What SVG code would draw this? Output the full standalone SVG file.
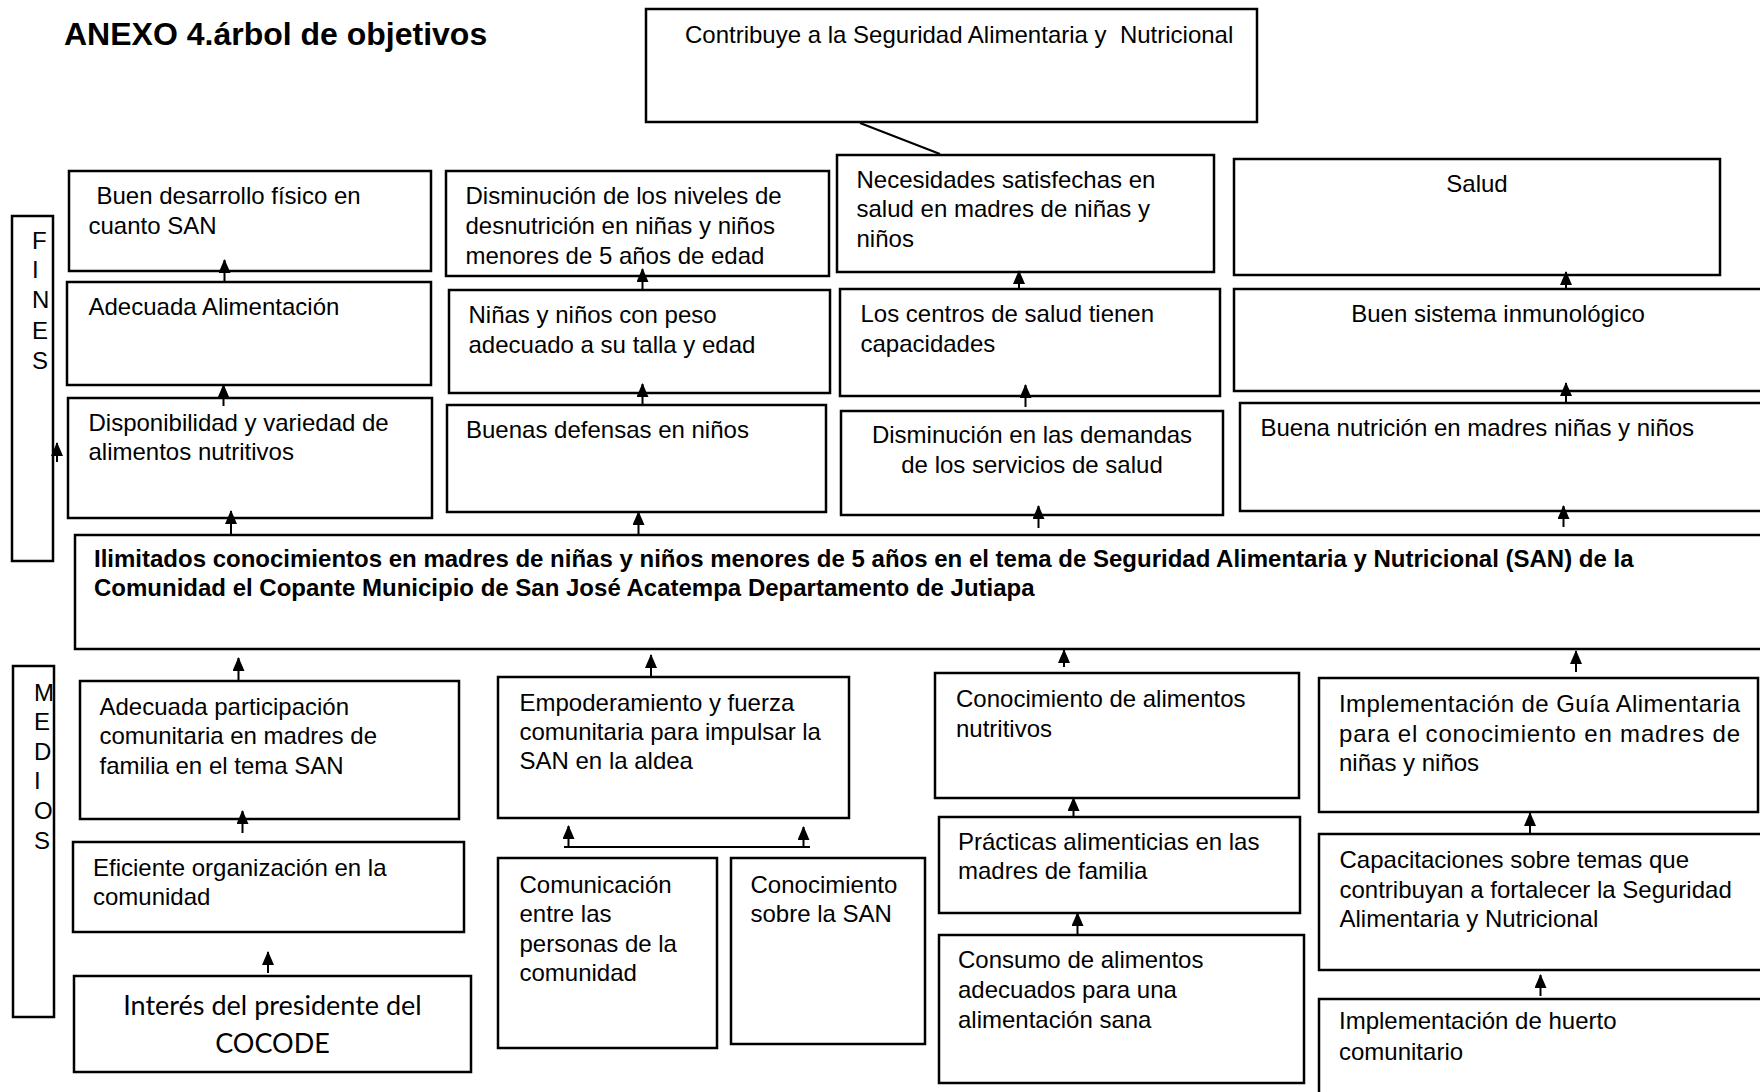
<svg xmlns="http://www.w3.org/2000/svg" width="1760" height="1092" viewBox="0 0 1760 1092">
<style>
  .box { fill: #ffffff; stroke: #000000; stroke-width: 2.5; }
  .t { font-family: "Liberation Sans", Arial, sans-serif; font-size: 24px; fill: #000000; }
  .b { font-family: "Liberation Sans", Arial, sans-serif; font-size: 24px; font-weight: bold; fill: #000000; }
  .title { font-family: "Liberation Sans", Arial, sans-serif; font-size: 32px; font-weight: bold; fill: #000000; }
  .cal { font-family: Lato, "Open Sans", sans-serif; font-size: 27px; fill: #000000; }
  .c { text-anchor: middle; }
  .arr { stroke: #000000; stroke-width: 2; fill: none; marker-end: url(#ah); }
  .ln { stroke: #000000; stroke-width: 2; fill: none; }
</style>
<defs>
  <marker id="ah" markerUnits="userSpaceOnUse" markerWidth="14" markerHeight="12" viewBox="0 0 14 12" refX="13" refY="6" orient="auto">
    <path d="M0,0 L14,6 L0,12 z" fill="#000000"/>
  </marker>
</defs>
<rect width="1760" height="1092" fill="#ffffff"/>

<text class="title" x="64" y="45">ANEXO 4.árbol de objetivos</text>

<g id="fin-general">
  <rect class="box" x="646" y="9" width="611" height="113"/>
  <text class="t" x="685" y="43" xml:space="preserve">Contribuye a la Seguridad Alimentaria y  Nutricional</text>
</g>

<g id="label-fines">
  <rect class="box" x="12" y="216" width="41" height="345"/>
  <text class="t" x="32" y="249">F</text>
  <text class="t" x="32" y="278">I</text>
  <text class="t" x="32" y="308">N</text>
  <text class="t" x="32" y="339">E</text>
  <text class="t" x="32" y="369">S</text>
</g>

<g id="label-medios">
  <rect class="box" x="13" y="666" width="41" height="351"/>
  <text class="t" x="34" y="701">M</text>
  <text class="t" x="34" y="730">E</text>
  <text class="t" x="34" y="760">D</text>
  <text class="t" x="34" y="789">I</text>
  <text class="t" x="34" y="819">O</text>
  <text class="t" x="34" y="849">S</text>
</g>

<g id="a1">
  <rect class="box" x="69" y="171" width="362" height="100"/>
  <text class="t" x="96.5" y="204">Buen desarrollo físico en</text>
  <text class="t" x="88.5" y="234">cuanto SAN</text>
</g>
<g id="a2">
  <rect class="box" x="446" y="171" width="383" height="105"/>
  <text class="t" x="465.5" y="204">Disminución de los niveles de</text>
  <text class="t" x="465.5" y="234">desnutrición en niñas y niños</text>
  <text class="t" x="465.5" y="264">menores de 5 años de edad</text>
</g>
<g id="a3">
  <rect class="box" x="837" y="155" width="377" height="117"/>
  <text class="t" x="856.5" y="188">Necesidades satisfechas en</text>
  <text class="t" x="856.5" y="217">salud en madres de niñas y</text>
  <text class="t" x="856.5" y="247">niños</text>
</g>
<g id="a4">
  <rect class="box" x="1234" y="159" width="486" height="116"/>
  <text class="t c" x="1477" y="192">Salud</text>
</g>

<g id="b1">
  <rect class="box" x="67" y="282" width="364" height="103"/>
  <text class="t" x="88.5" y="315">Adecuada Alimentación</text>
</g>
<g id="b2">
  <rect class="box" x="449" y="290" width="381" height="103"/>
  <text class="t" x="468.5" y="323">Niñas y niños con peso</text>
  <text class="t" x="468.5" y="353">adecuado a su talla y edad</text>
</g>
<g id="b3">
  <rect class="box" x="840" y="289" width="380" height="107"/>
  <text class="t" x="860.5" y="322">Los centros de salud tienen</text>
  <text class="t" x="860.5" y="352">capacidades</text>
</g>
<g id="b4">
  <rect class="box" x="1234" y="289" width="540" height="102"/>
  <text class="t c" x="1498" y="322">Buen sistema inmunológico</text>
</g>

<g id="c1">
  <rect class="box" x="68" y="398" width="364" height="120"/>
  <text class="t" x="88.5" y="431">Disponibilidad y variedad de</text>
  <text class="t" x="88.5" y="460">alimentos nutritivos</text>
</g>
<g id="c2">
  <rect class="box" x="447" y="405" width="379" height="107"/>
  <text class="t" x="466" y="438">Buenas defensas en niños</text>
</g>
<g id="c3">
  <rect class="box" x="841" y="411" width="382" height="104"/>
  <text class="t c" x="1032" y="443">Disminución en las demandas</text>
  <text class="t c" x="1032" y="473">de los servicios de salud</text>
</g>
<g id="c4">
  <rect class="box" x="1240" y="403" width="540" height="108"/>
  <text class="t" x="1260.5" y="436">Buena nutrición en madres niñas y niños</text>
</g>

<g id="problema-central">
  <rect class="box" x="75" y="535" width="1700" height="114"/>
  <text class="b" x="94" y="567">Ilimitados conocimientos en madres de niñas y niños menores de 5 años en el tema de Seguridad Alimentaria y Nutricional (SAN) de la</text>
  <text class="b" x="94" y="596">Comunidad el Copante Municipio de San José Acatempa Departamento de Jutiapa</text>
</g>

<g id="d1">
  <rect class="box" x="80" y="681" width="379" height="138"/>
  <text class="t" x="99.5" y="715">Adecuada participación</text>
  <text class="t" x="99.5" y="744">comunitaria en madres de</text>
  <text class="t" x="99.5" y="774">familia en el tema SAN</text>
</g>
<g id="d2">
  <rect class="box" x="498" y="677" width="351" height="141"/>
  <text class="t" x="519.5" y="711">Empoderamiento y fuerza</text>
  <text class="t" x="519.5" y="740">comunitaria para impulsar la</text>
  <text class="t" x="519.5" y="769">SAN en la aldea</text>
</g>
<g id="d3">
  <rect class="box" x="935" y="673" width="364" height="125"/>
  <text class="t" x="956" y="707">Conocimiento de alimentos</text>
  <text class="t" x="956" y="737">nutritivos</text>
</g>
<g id="d4">
  <rect class="box" x="1319" y="678" width="439" height="134"/>
  <text class="t" x="1339" y="712" textLength="401" lengthAdjust="spacing">Implementación de Guía Alimentaria</text>
  <text class="t" x="1339" y="742" textLength="401" lengthAdjust="spacing">para el conocimiento en madres de</text>
  <text class="t" x="1339" y="771">niñas y niños</text>
</g>

<g id="e1">
  <rect class="box" x="73" y="842" width="391" height="90"/>
  <text class="t" x="93" y="876">Eficiente organización en la</text>
  <text class="t" x="93" y="905">comunidad</text>
</g>
<g id="e2">
  <rect class="box" x="498" y="858" width="219" height="190"/>
  <text class="t" x="519.5" y="893">Comunicación</text>
  <text class="t" x="519.5" y="922">entre las</text>
  <text class="t" x="519.5" y="952">personas de la</text>
  <text class="t" x="519.5" y="981">comunidad</text>
</g>
<g id="e3">
  <rect class="box" x="731" y="858" width="194" height="186"/>
  <text class="t" x="750.5" y="893">Conocimiento</text>
  <text class="t" x="750.5" y="922">sobre la SAN</text>
</g>
<g id="e4">
  <rect class="box" x="939" y="817" width="361" height="96"/>
  <text class="t" x="958" y="850">Prácticas alimenticias en las</text>
  <text class="t" x="958" y="879">madres de familia</text>
</g>
<g id="e5">
  <rect class="box" x="1319" y="834" width="460" height="136"/>
  <text class="t" x="1339.5" y="868">Capacitaciones sobre temas que</text>
  <text class="t" x="1339.5" y="898">contribuyan a fortalecer la Seguridad</text>
  <text class="t" x="1339.5" y="927">Alimentaria y Nutricional</text>
</g>

<g id="f1">
  <rect class="box" x="74" y="976" width="397" height="96"/>
  <text class="cal c" x="272.5" y="1015">Interés del presidente del</text>
  <text class="cal c" x="272.5" y="1053">COCODE</text>
</g>
<g id="f4">
  <rect class="box" x="939" y="935" width="365" height="148"/>
  <text class="t" x="958" y="968">Consumo de alimentos</text>
  <text class="t" x="958" y="998">adecuados para una</text>
  <text class="t" x="958" y="1028">alimentación sana</text>
</g>
<g id="f5">
  <rect class="box" x="1319" y="999" width="460" height="110"/>
  <text class="t" x="1339" y="1029">Implementación de huerto</text>
  <text class="t" x="1339" y="1060">comunitario</text>
</g>

<g id="connectors">
  <line class="ln" x1="860" y1="123" x2="940" y2="154"/>
  <line class="arr" x1="224.5" y1="282" x2="224.5" y2="260"/>
  <line class="arr" x1="642.5" y1="290" x2="642.5" y2="269"/>
  <line class="arr" x1="1019" y1="289" x2="1019" y2="271"/>
  <line class="arr" x1="1566" y1="289" x2="1566" y2="272"/>
  <line class="arr" x1="223.5" y1="406" x2="223.5" y2="385"/>
  <line class="arr" x1="642.5" y1="405" x2="642.5" y2="384"/>
  <line class="arr" x1="1025.5" y1="407" x2="1025.5" y2="385"/>
  <line class="arr" x1="1566" y1="404" x2="1566" y2="383"/>
  <line class="arr" x1="231" y1="535" x2="231" y2="511"/>
  <line class="arr" x1="638.5" y1="535" x2="638.5" y2="512"/>
  <line class="arr" x1="1038.5" y1="528" x2="1038.5" y2="506"/>
  <line class="arr" x1="1563.5" y1="527" x2="1563.5" y2="506"/>
  <line class="arr" x1="57" y1="462" x2="57" y2="443"/>
  <line class="arr" x1="238.5" y1="680" x2="238.5" y2="658"/>
  <line class="arr" x1="651" y1="676" x2="651" y2="655"/>
  <line class="arr" x1="1064" y1="667" x2="1064" y2="650"/>
  <line class="arr" x1="1576" y1="672" x2="1576" y2="651"/>
  <line class="arr" x1="242.5" y1="833" x2="242.5" y2="811"/>
  <line class="arr" x1="268" y1="973" x2="268" y2="952"/>
  <line class="ln" x1="564" y1="847" x2="810" y2="847"/>
  <line class="arr" x1="568.5" y1="847" x2="568.5" y2="826"/>
  <line class="arr" x1="803.5" y1="847" x2="803.5" y2="827"/>
  <line class="arr" x1="1073.5" y1="817" x2="1073.5" y2="798"/>
  <line class="arr" x1="1077.5" y1="935" x2="1077.5" y2="913"/>
  <line class="arr" x1="1530" y1="834" x2="1530" y2="813"/>
  <line class="arr" x1="1540.5" y1="996" x2="1540.5" y2="975"/>
</g>
</svg>
